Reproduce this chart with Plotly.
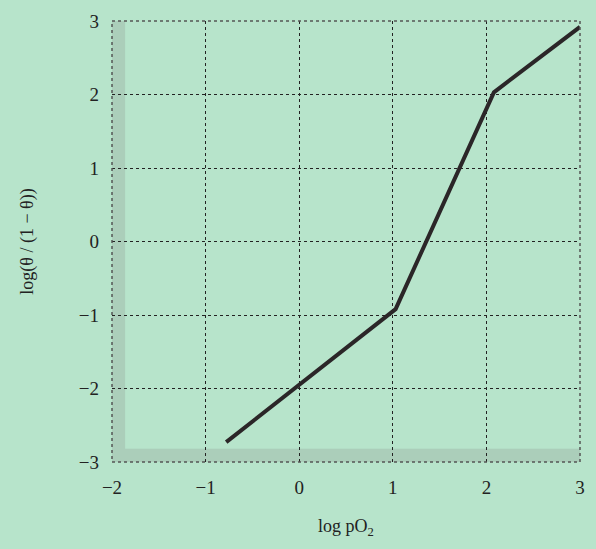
import plotly.graph_objects as go

log_pO2 = [-0.78, 1.03, 2.08, 3.0]
log_ratio = [-2.73, -0.92, 2.03, 2.92]

x_ticks = [-2, -1, 0, 1, 2, 3]
y_ticks = [-3, -2, -1, 0, 1, 2, 3]
x_labels = ["\u22122", "\u22121", "0", "1", "2", "3"]
y_labels = ["\u22123", "\u22122", "\u22121", "0", "1", "2", "3"]

bg = "#b7e4cb"
font = "Liberation Serif"
ink = "#222"

fig = go.Figure()
fig.add_trace(go.Scatter(x=log_pO2, y=log_ratio, mode="lines",
                         line=dict(color="#2b2628", width=4), showlegend=False,
                         hoverinfo="skip"))

# print shading along left and bottom edges of the frame
shade = "rgba(140,150,145,0.28)"
fig.add_shape(type="rect", xref="x domain", yref="y domain", x0=0, x1=0.028, y0=0, y1=1,
              fillcolor=shade, line_width=0, layer="below")
fig.add_shape(type="rect", xref="x domain", yref="y domain", x0=0.028, x1=1, y0=0, y1=0.03,
              fillcolor=shade, line_width=0, layer="below")
fig.add_shape(type="rect", xref="x domain", yref="y domain", x0=0, x1=1, y0=0, y1=1,
              line=dict(color="#555", width=1.5, dash="dot"), fillcolor="rgba(0,0,0,0)")

axis_common = dict(showgrid=True, gridcolor=ink, griddash="dot", gridwidth=1,
                   zeroline=False, showline=False, ticks="",
                   tickfont=dict(family=font, size=19, color=ink))

fig.update_xaxes(range=[-2, 3], tickvals=x_ticks, ticktext=x_labels, ticklabelstandoff=12,
                 title=dict(text="log pO<sub>2</sub>", font=dict(family=font, size=18, color=ink),
                            standoff=22), **axis_common)
fig.update_yaxes(range=[-3, 3], tickvals=y_ticks, ticktext=y_labels, ticklabelstandoff=12,
                 title=dict(text="log(\u03b8 / (1 \u2212 \u03b8))", font=dict(family=font, size=18, color=ink),
                            standoff=40), **axis_common)

fig.update_layout(width=596, height=549, paper_bgcolor=bg, plot_bgcolor=bg,
                  margin=dict(l=112, r=11, t=14, b=87))

fig.write_html("out.html")
